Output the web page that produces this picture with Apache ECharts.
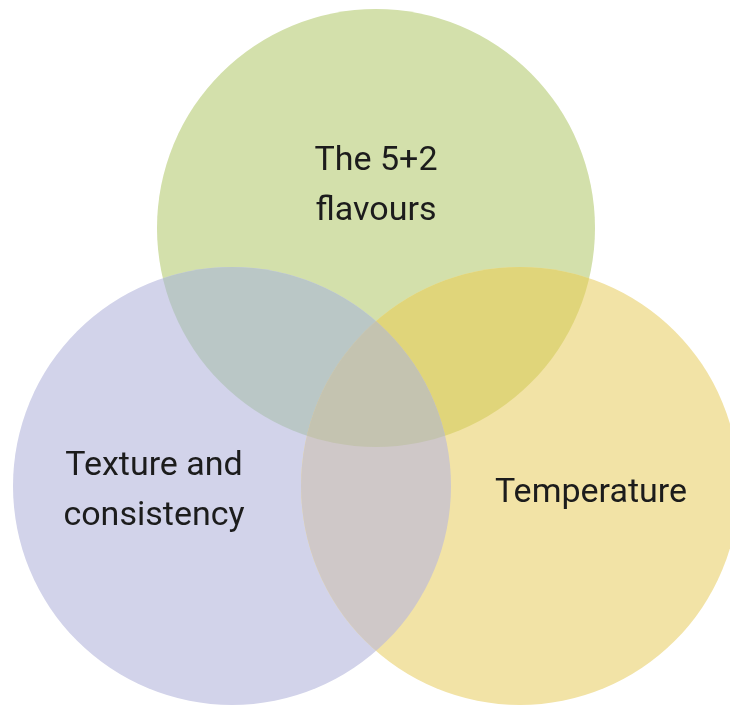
<!DOCTYPE html>
<html>
<head>
<meta charset="utf-8">
<script src="https://cdn.jsdelivr.net/npm/echarts@6/dist/echarts.min.js"></script>
<style>
  html, body { margin: 0; padding: 0; background: #fff; }
  #main { width: 730px; height: 705px; }
</style>
</head>
<body>
<div id="main"></div>
<script>
// circles of the diagram (same units as the page, y grows downwards)
const circleNames = ['The 5+2\nflavours', 'Texture and\nconsistency', 'Temperature'];
const centerX = [376, 232, 520];
const centerY = [228, 486, 486];
const radius = [219, 219, 219];
// label anchor of each circle
const labelX = [376, 154, 591];
const labelY = [186, 491, 493];
// pairwise overlaps [a, b] and the triple overlap
const pairs = [[0, 1], [0, 2], [1, 2]];
const triple = [0, 1, 2];

const circleColors = ['#d3e0ab', '#d2d3ea', '#f2e3a6'];
const pairColors = ['#bac7c6', '#e0d57a', '#cfc8c8'];
const tripleColor = '#c4c3b0';

const chart = echarts.init(document.getElementById('main'));

function circleShape(api, i) {
  const p = api.coord([centerX[i], centerY[i]]);
  const r = api.size([radius[i], 0])[0];
  return { cx: p[0], cy: p[1], r: r };
}

chart.setOption({
  animation: false,
  grid: { left: 0, right: 0, top: 0, bottom: 0 },
  xAxis: { type: 'value', min: 0, max: 730, show: false },
  yAxis: { type: 'value', min: 0, max: 705, inverse: true, show: false },
  series: [
    {
      // base circles
      type: 'custom',
      coordinateSystem: 'cartesian2d',
      data: circleNames.map((n, i) => [centerX[i], centerY[i], i]),
      renderItem: function (params, api) {
        const i = api.value(2);
        return {
          type: 'circle',
          shape: circleShape(api, i),
          style: { fill: circleColors[i] }
        };
      }
    },
    {
      // overlaps of two circles
      type: 'custom',
      coordinateSystem: 'cartesian2d',
      data: pairs.map((p, k) => [centerX[p[0]], centerY[p[0]], k]),
      renderItem: function (params, api) {
        const k = api.value(2);
        const a = pairs[k][0], b = pairs[k][1];
        return {
          type: 'circle',
          shape: circleShape(api, a),
          style: { fill: pairColors[k] },
          clipPath: { type: 'circle', shape: circleShape(api, b) }
        };
      }
    },
    {
      // overlap of all three
      type: 'custom',
      coordinateSystem: 'cartesian2d',
      data: [[centerX[triple[0]], centerY[triple[0]], 0]],
      renderItem: function (params, api) {
        return {
          type: 'group',
          clipPath: { type: 'circle', shape: circleShape(api, triple[2]) },
          children: [{
            type: 'circle',
            shape: circleShape(api, triple[0]),
            style: { fill: tripleColor },
            clipPath: { type: 'circle', shape: circleShape(api, triple[1]) }
          }]
        };
      }
    },
    {
      // labels
      type: 'custom',
      coordinateSystem: 'cartesian2d',
      z: 5,
      data: circleNames.map((n, i) => [labelX[i], labelY[i], i]),
      renderItem: function (params, api) {
        const i = api.value(2);
        const p = api.coord([labelX[i], labelY[i]]);
        return {
          type: 'text',
          x: p[0],
          y: p[1],
          style: {
            text: circleNames[i],
            fill: '#1c1c1c',
            font: '34px Roboto',
            lineHeight: 50,
            align: 'center',
            verticalAlign: 'middle'
          }
        };
      }
    }
  ]
});
</script>
</body>
</html>
